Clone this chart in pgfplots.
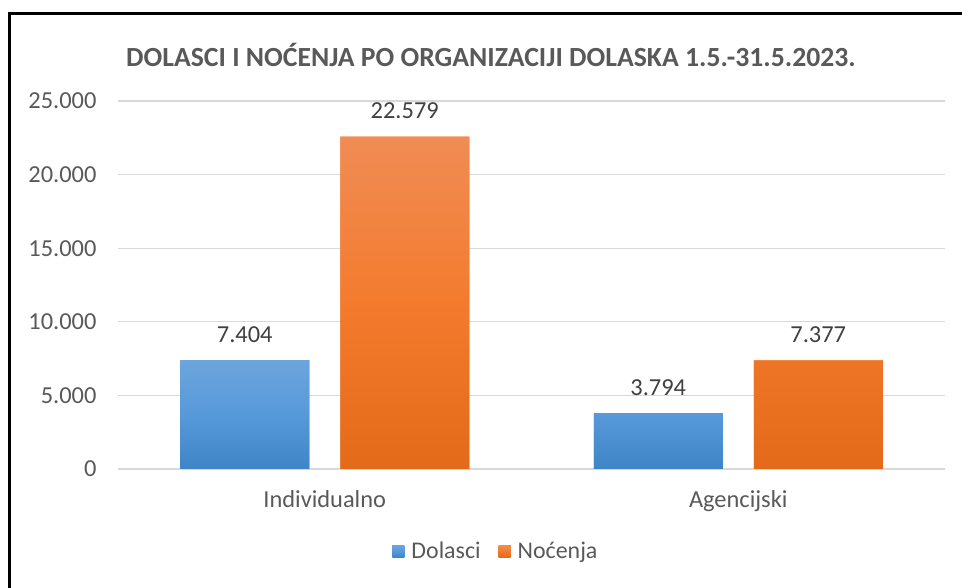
\documentclass[border=0pt]{standalone}
\usepackage{pgfplots}
\pgfplotsset{compat=1.18}
\usepackage{fontspec}
\setmainfont{Carlito}
\definecolor{txt}{HTML}{595959}
\definecolor{lbl}{HTML}{404040}
\definecolor{grid}{HTML}{D9D9D9}
\definecolor{bluetop}{HTML}{6CA5DD}
\definecolor{bluemid}{HTML}{5799D9}
\definecolor{bluebot}{HTML}{3E85C7}
\definecolor{orgtop}{HTML}{F08C55}
\definecolor{orgmid}{HTML}{F47B2D}
\definecolor{orgbot}{HTML}{E36A18}
\begin{document}
\begin{tikzpicture}
\path[use as bounding box] (0,0) rectangle (962bp,588bp);
\draw[line width=3bp,black] (9.5bp,-5bp) -- (9.5bp,574.5bp) -- (970bp,574.5bp);
\node[font=\fontsize{27.8}{32}\selectfont\bfseries,text=txt] at (491bp,533bp) {DOLASCI I NOĆENJA PO ORGANIZACIJI DOLASKA 1.5.-31.5.2023.};
\begin{axis}[
  at={(118bp,119bp)}, anchor=south west,
  scale only axis, width=827bp, height=368bp,
  xmin=-0.5, xmax=1.5, ymin=0, ymax=25000,
  axis line style={draw=none},
  axis x line*=bottom,
  x axis line style={draw=grid, line width=1.3bp},
  ytick={0,5000,10000,15000,20000,25000},
  ymajorgrids, major grid style={draw=grid, line width=1.3bp},
  xtick={0,1}, xticklabels={Individualno,Agencijski},
  major tick length=0pt,
  tick label style={font=\fontsize{24.5}{29}\selectfont, text=txt},
  /pgf/number format/1000 sep={.},
  /pgf/number format/assume math mode=true,
  scaled y ticks=false,
  xticklabel style={yshift=-18bp},
  yticklabel style={xshift=-18bp},
  ybar, bar width=129bp,
  nodes near coords,
  nodes near coords style={font=\fontsize{24.5}{29}\selectfont, text=lbl, yshift=14bp},
  legend style={at={(0.457,-0.223)}, anchor=center, draw=none, legend columns=2,
    font=\fontsize{24}{28}\selectfont, text=txt,
    /tikz/every even column/.append style={column sep=16bp}},
  legend image code/.code={\fill[#1] (0bp,-6bp) rectangle (12bp,6bp); \path (17bp,0bp);},
]
\addplot[draw=none, fill=bluemid, top color=bluetop, bottom color=bluebot, middle color=bluemid, bar shift=-80bp] coordinates {(0,7404) (1,3794)};
\addplot[draw=none, fill=orgmid, top color=orgtop, bottom color=orgbot, middle color=orgmid, bar shift=80bp] coordinates {(0,22579) (1,7377)};
\legend{Dolasci,Noćenja}
\end{axis}
\end{tikzpicture}
\end{document}
